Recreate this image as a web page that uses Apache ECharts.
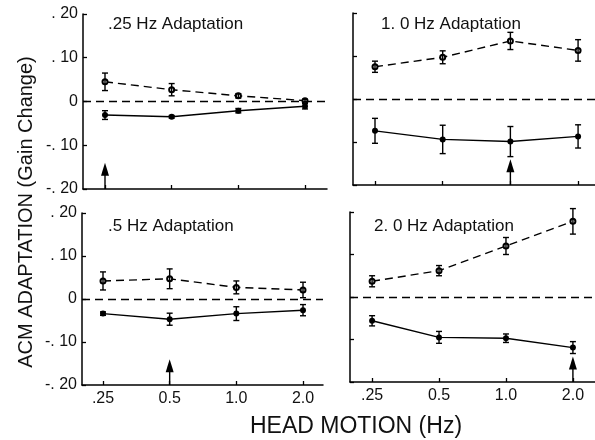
<!DOCTYPE html>
<html>
<head>
<meta charset="utf-8">
<script src="https://cdn.jsdelivr.net/npm/echarts@6/dist/echarts.min.js"></script>
<style>
html, body { margin: 0; padding: 0; background: #fff; }
#main { width: 595px; height: 440px; }
</style>
</head>
<body>
<div id="main"></div>
<script>
// head motion frequencies (x categories) and y tick text
var xLabels = ['.25', '0.5', '1.0', '2.0'];
var yTickText = ['-. 20', '-. 10', '0', '. 10', '. 20'];
var panelTitles = ['.25 Hz Adaptation', '1. 0 Hz Adaptation', '.5 Hz Adaptation', '2. 0 Hz Adaptation'];
var adaptIndex = [0, 2, 1, 3];
var arrowTip = -0.14;

// .25 Hz adaptation
var up25 = [0.045, 0.027, 0.013, 0.002];
var upErr25 = [0.02, 0.014, 0.005, 0.003];
var down25 = [-0.031, -0.035, -0.021, -0.011];
var downErr25 = [0.01, 0.003, 0.005, 0.006];

// 1.0 Hz adaptation
var up10 = [0.075, 0.097, 0.135, 0.113];
var upErr10 = [0.013, 0.015, 0.02, 0.025];
var down10 = [-0.074, -0.094, -0.099, -0.087];
var downErr10 = [0.029, 0.033, 0.035, 0.027];

// .5 Hz adaptation
var up05 = [0.042, 0.047, 0.027, 0.021];
var upErr05 = [0.021, 0.023, 0.015, 0.018];
var down05 = [-0.034, -0.047, -0.034, -0.026];
var downErr05 = [0.004, 0.014, 0.016, 0.013];

// 2.0 Hz adaptation
var up20 = [0.037, 0.062, 0.12, 0.178];
var upErr20 = [0.013, 0.012, 0.02, 0.03];
var down20 = [-0.056, -0.095, -0.097, -0.119];
var downErr20 = [0.012, 0.014, 0.01, 0.014];

var panelData = [
    [up25, upErr25, down25, downErr25],
    [up10, upErr10, down10, downErr10],
    [up05, upErr05, down05, downErr05],
    [up20, upErr20, down20, downErr20]
];

var FONT = '"Liberation Sans", Arial, Helvetica, sans-serif';

var layouts = [
    { grid: { left: 83, top: 14, width: 244, height: 175 }, xmin: -0.33, xmax: 3.33, showY: true, showX: false, tx: 103, ty: 11 },
    { grid: { left: 353, top: 13, width: 242, height: 172 }, xmin: -0.325, xmax: 3.25, showY: false, showX: false, tx: 376, ty: 11 },
    { grid: { left: 82, top: 213, width: 241, height: 172 }, xmin: -0.315, xmax: 3.3, showY: true, showX: true, tx: 103, ty: 213 },
    { grid: { left: 350, top: 212, width: 245, height: 170 }, xmin: -0.33, xmax: 3.33, showY: false, showX: true, tx: 369, ty: 213 }
];

function renderErr(params, api) {
    var x = api.value(0);
    var p1 = api.coord([x, api.value(1)]);
    var p2 = api.coord([x, api.value(2)]);
    var c = 3;
    var st = { stroke: '#000', lineWidth: 1.4 };
    return {
        type: 'group',
        children: [
            { type: 'line', shape: { x1: p1[0], y1: p1[1], x2: p2[0], y2: p2[1] }, style: st },
            { type: 'line', shape: { x1: p1[0] - c, y1: p1[1], x2: p1[0] + c, y2: p1[1] }, style: st },
            { type: 'line', shape: { x1: p2[0] - c, y1: p2[1], x2: p2[0] + c, y2: p2[1] }, style: st }
        ]
    };
}

function renderArrow(params, api) {
    var x = api.value(0);
    var b = api.coord([x, api.value(1)]);
    var t = api.coord([x, api.value(2)]);
    return {
        type: 'group',
        children: [
            { type: 'line', shape: { x1: b[0], y1: b[1], x2: t[0], y2: t[1] + 6 }, style: { stroke: '#000', lineWidth: 1.4 } },
            { type: 'polygon', shape: { points: [[t[0], t[1]], [t[0] - 4, t[1] + 13], [t[0] + 4, t[1] + 13]] }, style: { fill: '#000' } }
        ]
    };
}

var grids = [], xAxes = [], yAxes = [], series = [], titles = [];

layouts.forEach(function (L, i) {
    grids.push(L.grid);
    xAxes.push({
        type: 'value',
        gridIndex: i,
        min: L.xmin,
        max: L.xmax,
        axisLine: { onZero: false, lineStyle: { color: '#000', width: 1.5 } },
        axisTick: { show: true, inside: true, length: 4, customValues: [0, 1, 2, 3], lineStyle: { color: '#000', width: 1.3 } },
        axisLabel: {
            show: L.showX,
            customValues: [0, 1, 2, 3],
            formatter: function (v) { return xLabels[Math.round(v)]; },
            color: '#111',
            fontFamily: FONT,
            fontSize: 16,
            margin: 6
        },
        splitLine: { show: false }
    });
    yAxes.push({
        type: 'value',
        gridIndex: i,
        min: -0.2,
        max: 0.2,
        interval: 0.1,
        axisLine: { show: true, onZero: false, lineStyle: { color: '#000', width: 1.5 } },
        axisTick: { show: true, inside: true, length: 4, lineStyle: { color: '#000', width: 1.3 } },
        axisLabel: {
            show: L.showY,
            formatter: function (v) { return yTickText[Math.round((v + 0.2) * 10)]; },
            color: '#111',
            fontFamily: FONT,
            fontSize: 16,
            margin: 5
        },
        splitLine: { show: false }
    });
    titles.push({
        text: panelTitles[i],
        left: L.tx,
        top: L.ty,
        textStyle: { fontFamily: FONT, fontSize: 17, fontWeight: 'normal', color: '#111' }
    });

    var d = panelData[i];
    var xs = [0, 1, 2, 3];
    series.push({
        type: 'line',
        xAxisIndex: i, yAxisIndex: i,
        data: xs.map(function (x, k) { return [x, d[0][k]]; }),
        symbol: 'emptyCircle', symbolSize: 5,
        itemStyle: { color: '#000', borderWidth: 1.2 },
        lineStyle: { color: '#000', width: 1.4, type: [8, 5] },
        silent: true, animation: false, z: 3
    });
    series.push({
        type: 'line',
        xAxisIndex: i, yAxisIndex: i,
        data: xs.map(function (x, k) { return [x, d[2][k]]; }),
        symbol: 'circle', symbolSize: 6,
        itemStyle: { color: '#000' },
        lineStyle: { color: '#000', width: 1.4 },
        silent: true, animation: false, z: 3,
        markLine: {
            silent: true,
            symbol: 'none',
            label: { show: false },
            lineStyle: { color: '#000', width: 1.3, type: [8, 5] },
            data: [{ yAxis: 0 }],
            animation: false
        }
    });
    series.push({
        type: 'custom',
        xAxisIndex: i, yAxisIndex: i,
        renderItem: renderErr,
        data: xs.map(function (x, k) { return [x, d[0][k] - d[1][k], d[0][k] + d[1][k]]; }),
        silent: true, animation: false, z: 4
    });
    series.push({
        type: 'custom',
        xAxisIndex: i, yAxisIndex: i,
        renderItem: renderErr,
        data: xs.map(function (x, k) { return [x, d[2][k] - d[3][k], d[2][k] + d[3][k]]; }),
        silent: true, animation: false, z: 4
    });
    series.push({
        type: 'custom',
        xAxisIndex: i, yAxisIndex: i,
        renderItem: renderArrow,
        data: [[adaptIndex[i], -0.2, arrowTip]],
        silent: true, animation: false, z: 4
    });
});

var myChart = echarts.init(document.getElementById('main'));
var option = {
    backgroundColor: '#fff',
    animation: false,
    title: titles,
    grid: grids,
    xAxis: xAxes,
    yAxis: yAxes,
    series: series,
    graphic: [
        {
            type: 'text',
            x: 26, y: 212,
            rotation: Math.PI / 2,
            style: {
                text: 'ACM ADAPTATION (Gain Change)',
                font: '20px ' + FONT,
                fill: '#111',
                textAlign: 'center',
                textVerticalAlign: 'middle'
            }
        },
        {
            type: 'text',
            x: 356, y: 427,
            style: {
                text: 'HEAD MOTION (Hz)',
                font: '23px ' + FONT,
                fill: '#111',
                textAlign: 'center',
                textVerticalAlign: 'middle'
            }
        }
    ]
};
myChart.setOption(option);
</script>
</body>
</html>
